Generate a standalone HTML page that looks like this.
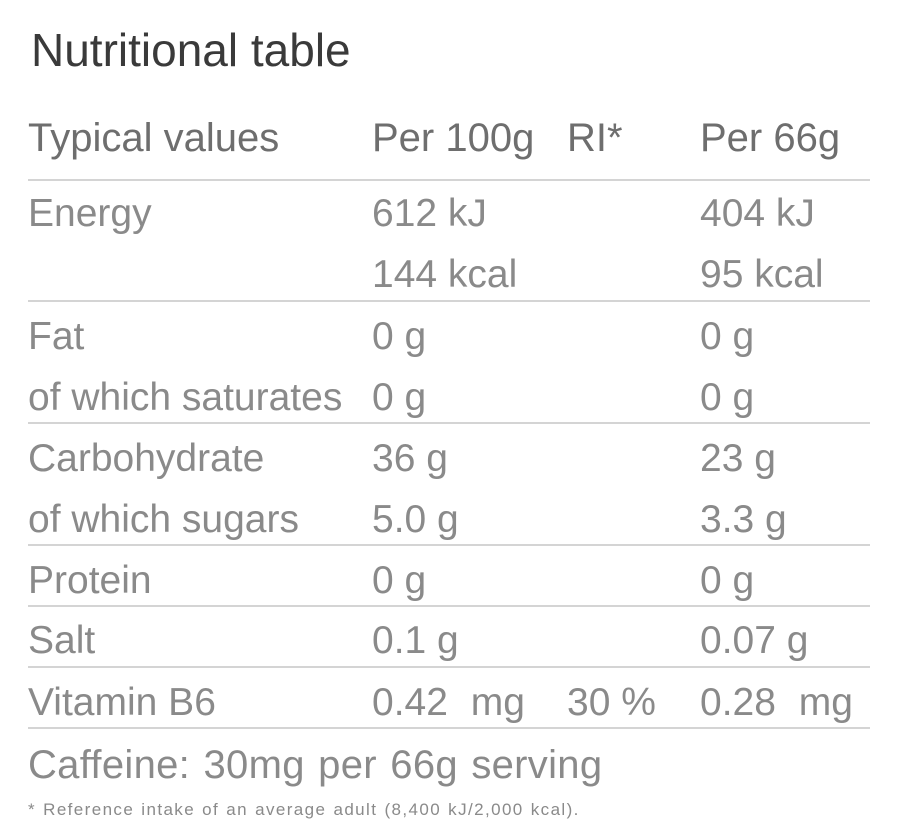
<!DOCTYPE html>
<html><head><meta charset="utf-8"><style>
html,body{margin:0;padding:0;background:#fff;}
body{width:900px;height:835px;position:relative;overflow:hidden;font-family:"Liberation Sans",sans-serif;}
.t{position:absolute;white-space:nowrap;line-height:50px;height:50px;font-size:39px;color:#8a8a8a;word-spacing:0;}
.h{color:#6e6e6e;font-size:40px;word-spacing:0;}
.ln{position:absolute;left:28px;width:842px;height:2px;background:#d4d4d4;}
</style></head><body>
<div class="t" style="left:31px;top:25px;font-size:46px;color:#3a3a3a;">Nutritional table</div>

<div class="t h" style="left:28px;top:113px;">Typical values</div>
<div class="t h" style="left:372px;top:113px;">Per 100g</div>
<div class="t h" style="left:567px;top:113px;">RI*</div>
<div class="t h" style="left:700px;top:113px;">Per 66g</div>
<div class="ln" style="top:179px"></div>

<div class="t" style="left:28px;top:189px;">Energy</div>
<div class="t" style="left:372px;top:189px;">612 kJ</div>
<div class="t" style="left:700px;top:189px;">404 kJ</div>
<div class="t" style="left:372px;top:250px;">144 kcal</div>
<div class="t" style="left:700px;top:250px;">95 kcal</div>
<div class="ln" style="top:300px"></div>

<div class="t" style="left:28px;top:312px;">Fat</div>
<div class="t" style="left:372px;top:312px;">0 g</div>
<div class="t" style="left:700px;top:312px;">0 g</div>
<div class="t" style="left:28px;top:373px;">of which saturates</div>
<div class="t" style="left:372px;top:373px;">0 g</div>
<div class="t" style="left:700px;top:373px;">0 g</div>
<div class="ln" style="top:422px"></div>

<div class="t" style="left:28px;top:434px;">Carbohydrate</div>
<div class="t" style="left:372px;top:434px;">36 g</div>
<div class="t" style="left:700px;top:434px;">23 g</div>
<div class="t" style="left:28px;top:495px;">of which sugars</div>
<div class="t" style="left:372px;top:495px;">5.0 g</div>
<div class="t" style="left:700px;top:495px;">3.3 g</div>
<div class="ln" style="top:544px"></div>

<div class="t" style="left:28px;top:556px;">Protein</div>
<div class="t" style="left:372px;top:556px;">0 g</div>
<div class="t" style="left:700px;top:556px;">0 g</div>
<div class="ln" style="top:605px"></div>

<div class="t" style="left:28px;top:616px;">Salt</div>
<div class="t" style="left:372px;top:616px;">0.1 g</div>
<div class="t" style="left:700px;top:616px;">0.07 g</div>
<div class="ln" style="top:666px"></div>

<div class="t" style="left:28px;top:678px;">Vitamin B6</div>
<div class="t" style="left:372px;top:678px;word-spacing:12px;">0.42 mg</div>
<div class="t" style="left:567px;top:678px;">30 %</div>
<div class="t" style="left:700px;top:678px;word-spacing:12px;">0.28 mg</div>
<div class="ln" style="top:727px"></div>

<div class="t" style="left:28px;top:740px;font-size:40px;letter-spacing:0.3px;word-spacing:2px;">Caffeine: 30mg per 66g serving</div>
<div class="t" style="left:28px;top:796px;font-size:17px;line-height:28px;height:28px;color:#8a8a8a;letter-spacing:1.4px;word-spacing:1px;">* Reference intake of an average adult (8,400 kJ/2,000 kcal).</div>
</body></html>
